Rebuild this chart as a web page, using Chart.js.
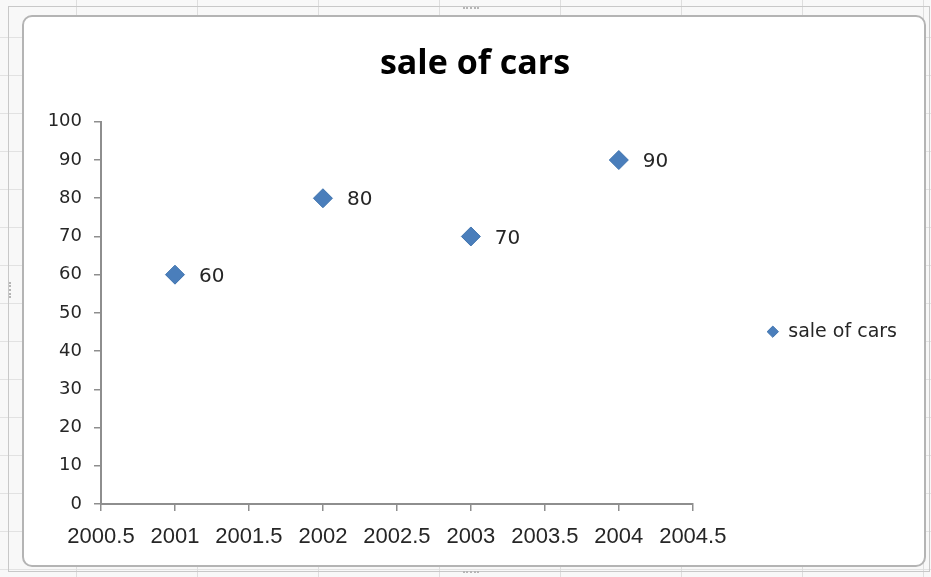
<!DOCTYPE html>
<html>
<head>
<meta charset="utf-8">
<script src="https://cdn.jsdelivr.net/npm/chart.js@4"></script>
<style>
    html, body {
        margin: 0;
        padding: 0;
    }
    body {
        width: 931px;
        height: 577px;
        position: relative;
        overflow: hidden;
        background-color: #f8f8f8;
        background-image:
            repeating-linear-gradient(to right, transparent 0, transparent 76px, #dedede 76px, #dedede 77px, transparent 77px, transparent 121px),
            repeating-linear-gradient(to bottom, transparent 0, transparent 37px, #e2e2e2 37px, #e2e2e2 38px);
    }
    .sheet-frame {
        position: absolute;
        left: 8px;
        top: 6px;
        width: 920px;
        height: 564px;
        border: 1px solid #c8c8c8;
    }
    .chart-box {
        position: absolute;
        left: 22px;
        top: 15px;
        width: 900px;
        height: 548px;
        border: 2px solid #b4b4b4;
        border-radius: 10px;
        background: #fff;
    }
    .grip {
        position: absolute;
        border-top: 2px dotted #b5b5b5;
        width: 16px;
        height: 0;
    }
    .grip.v {
        border-top: none;
        border-left: 2px dotted #b5b5b5;
        width: 0;
        height: 16px;
    }
    #salesChart {
        position: absolute;
        left: 0;
        top: 0;
    }
</style>
</head>
<body>
<div class="sheet-frame"></div>
<div class="chart-box"></div>
<div class="grip" style="left:463px; top:7px;"></div>
<div class="grip" style="left:463px; top:571px;"></div>
<div class="grip v" style="left:9px; top:282px;"></div>
<canvas id="salesChart" width="931" height="577"></canvas>

<script>
    const years = [2001, 2002, 2003, 2004];
    const sales = [60, 80, 70, 90];
    const xTickValues = [2000.5, 2001, 2001.5, 2002, 2002.5, 2003, 2003.5, 2004, 2004.5];
    const yTickValues = [0, 10, 20, 30, 40, 50, 60, 70, 80, 90, 100];

    const axisGray = '#8e8e8e';
    const textColor = '#262626';

    // numeric labels next to each marker
    const valueLabels = {
        id: 'valueLabels',
        afterDatasetsDraw(chart) {
            const ctx = chart.ctx;
            const meta = chart.getDatasetMeta(0);
            ctx.save();
            ctx.font = '20px "DejaVu Sans"';
            ctx.fillStyle = textColor;
            ctx.textAlign = 'left';
            ctx.textBaseline = 'middle';
            meta.data.forEach((pt, i) => {
                ctx.fillText(String(sales[i]), pt.x + 24, pt.y + 2);
            });
            ctx.restore();
        }
    };

    const ctx = document.getElementById('salesChart').getContext('2d');

    new Chart(ctx, {
        type: 'scatter',
        data: {
            datasets: [{
                label: 'sale of cars',
                data: years.map((x, i) => ({ x: x, y: sales[i] })),
                pointStyle: 'rectRot',
                pointRadius: 9.5,
                pointHoverRadius: 9.5,
                backgroundColor: '#4a7ebb',
                borderColor: '#3f73ae',
                borderWidth: 1
            }]
        },
        options: {
            responsive: false,
            animation: false,
            layout: {
                padding: { left: 43, right: 24, top: 10, bottom: 0 }
            },
            scales: {
                x: {
                    type: 'linear',
                    min: 2000.5,
                    max: 2004.5,
                    afterBuildTicks: axis => {
                        axis.ticks = xTickValues.map(v => ({ value: v }));
                    },
                    afterFit: axis => {
                        axis.height = 73;
                    },
                    border: { color: axisGray, width: 2 },
                    grid: {
                        drawOnChartArea: false,
                        drawTicks: true,
                        tickLength: 7,
                        color: axisGray,
                        lineWidth: 1.5
                    },
                    ticks: {
                        padding: 13,
                        color: textColor,
                        font: { family: '"Liberation Sans"', size: 22 },
                        callback: value => String(value),
                        maxRotation: 0,
                        autoSkip: false
                    }
                },
                y: {
                    min: 0,
                    max: 100,
                    afterBuildTicks: axis => {
                        axis.ticks = yTickValues.map(v => ({ value: v }));
                    },
                    afterFit: axis => {
                        axis.width = 58;
                    },
                    border: { color: axisGray, width: 2 },
                    grid: {
                        drawOnChartArea: false,
                        drawTicks: true,
                        tickLength: 7,
                        color: axisGray,
                        lineWidth: 1.5
                    },
                    ticks: {
                        padding: 12,
                        color: textColor,
                        font: { family: '"DejaVu Sans"', size: 18 },
                        callback: value => String(value)
                    }
                }
            },
            plugins: {
                title: {
                    display: true,
                    text: 'sale of cars',
                    color: '#000',
                    font: { family: '"Open Sans"', size: 34, weight: 'bold' },
                    padding: { top: 34, bottom: 37 }
                },
                legend: {
                    display: true,
                    position: 'right',
                    align: 'center',
                    // empty title only pushes the entry down a little
                    title: {
                        display: true,
                        text: ' ',
                        font: { size: 12 },
                        padding: { top: 31, bottom: 31 }
                    },
                    labels: {
                        usePointStyle: true,
                        boxWidth: 12,
                        boxHeight: 8,
                        padding: 74,
                        color: textColor,
                        font: { family: '"DejaVu Sans"', size: 19 }
                    }
                },
                tooltip: { enabled: false }
            }
        },
        plugins: [valueLabels]
    });
</script>
</body>
</html>
